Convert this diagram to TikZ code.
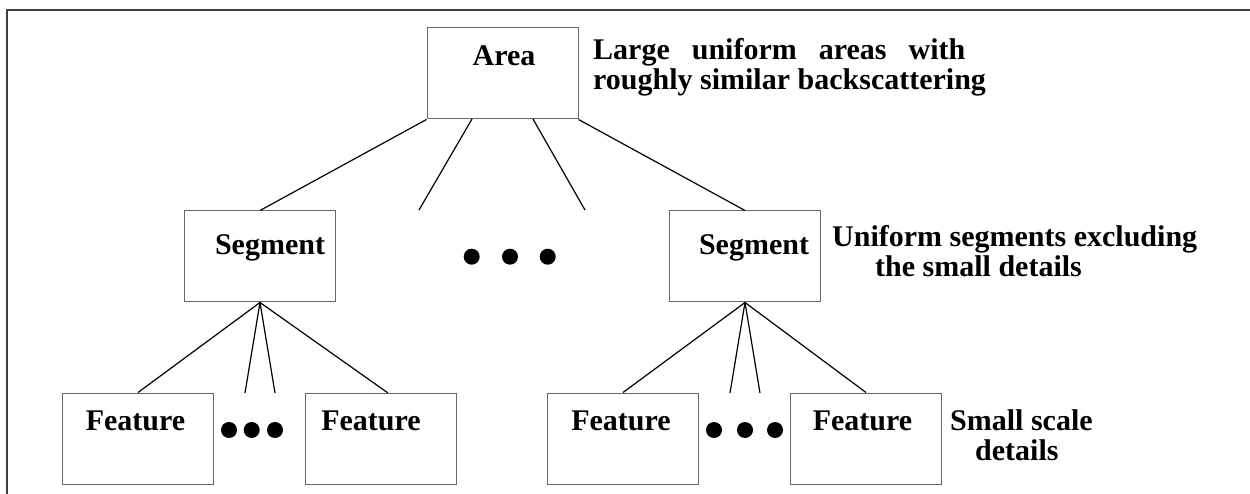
\documentclass[tikz,border=0pt]{standalone}
\usepackage{fontspec}
\setmainfont{Liberation Serif}
\begin{document}
\begin{tikzpicture}[x=1pt,y=-1pt,
  box/.style={draw=black!60,line width=1pt,minimum width=151pt,minimum height=91pt,inner sep=0pt},
  txt/.style={font=\fontsize{30}{30}\selectfont\bfseries,anchor=base,inner sep=0pt},
  lbl/.style={font=\fontsize{30}{30}\selectfont\bfseries,anchor=base west,inner sep=0pt},
  conn/.style={line width=1.2pt,black},
  dot/.style={circle,fill=black,minimum size=16pt,inner sep=0pt}]
\useasboundingbox (0,0) rectangle (1250,494);
% frame
\draw[line width=2pt,black!75] (7,494) -- (7,10) -- (1250,10);
% boxes
\node[box] (area) at (502.5,73.5) {};
\node[box] (segL) at (260,256.5) {};
\node[box] (segR) at (745,256.5) {};
\node[box] (fL1) at (138,438.5) {};
\node[box] (fL2) at (381,438.5) {};
\node[box] (fR1) at (623,438.5) {};
\node[box] (fR2) at (866,438.5) {};
% texts in boxes
\node[txt] (tarea) at (504,66) {Area};
\node[txt] (tsegL) at (270,255) {Segment};
\node[txt] (tsegR) at (754,255) {Segment};
\node[txt] (tfL1) at (135.5,430) {Feature};
\node[txt] (tfL2) at (371,430) {Feature};
\node[txt] (tfR1) at (621,430) {Feature};
\node[txt] (tfR2) at (862.5,430) {Feature};
% side labels
\node[lbl] (l1a) at (593,60) {Large\hspace{22pt}uniform\hspace{22pt}areas\hspace{22pt}with};
\node[lbl] (l1b) at (593,90) {roughly similar backscattering};
\node[lbl] (l2a) at (832,247) {Uniform segments excluding};
\node[lbl] (l2b) at (875,277) {the small details};
\node[lbl] (l3a) at (950,430) {Small scale};
\node[lbl] (l3b) at (975,460) {details};
% connector endpoints
\coordinate (a1) at (472,119);
\coordinate (a2) at (533,119);
\coordinate (e1) at (419,210);
\coordinate (e2) at (585,210);
\coordinate (m1) at (245,393);
\coordinate (m2) at (275,393);
\coordinate (m3) at (388,393);
\coordinate (n1) at (730,393);
\coordinate (n2) at (760,393);
% connectors
\draw[conn] (area.south west) -- (segL.north);
\draw[conn] (a1) -- (e1);
\draw[conn] (a2) -- (e2);
\draw[conn] (area.south east) -- (segR.north);
\draw[conn] (segL.south) -- (fL1.north);
\draw[conn] (segL.south) -- (m1);
\draw[conn] (segL.south) -- (m2);
\draw[conn] (segL.south) -- (m3);
\draw[conn] (segR.south) -- (fR1.north);
\draw[conn] (segR.south) -- (n1);
\draw[conn] (segR.south) -- (n2);
\draw[conn] (segR.south) -- (fR2.north);
% dots
\node[dot] (d1) at (471.7,256.7) {};
\node[dot] (d2) at (510,256.7) {};
\node[dot] (d3) at (547.7,256.7) {};
\node[dot] (d4) at (229,430) {};
\node[dot] (d5) at (251.7,430) {};
\node[dot] (d6) at (275,430) {};
\node[dot] (d7) at (714,430) {};
\node[dot] (d8) at (745,430) {};
\node[dot] (d9) at (775,430) {};
\end{tikzpicture}
\end{document}
